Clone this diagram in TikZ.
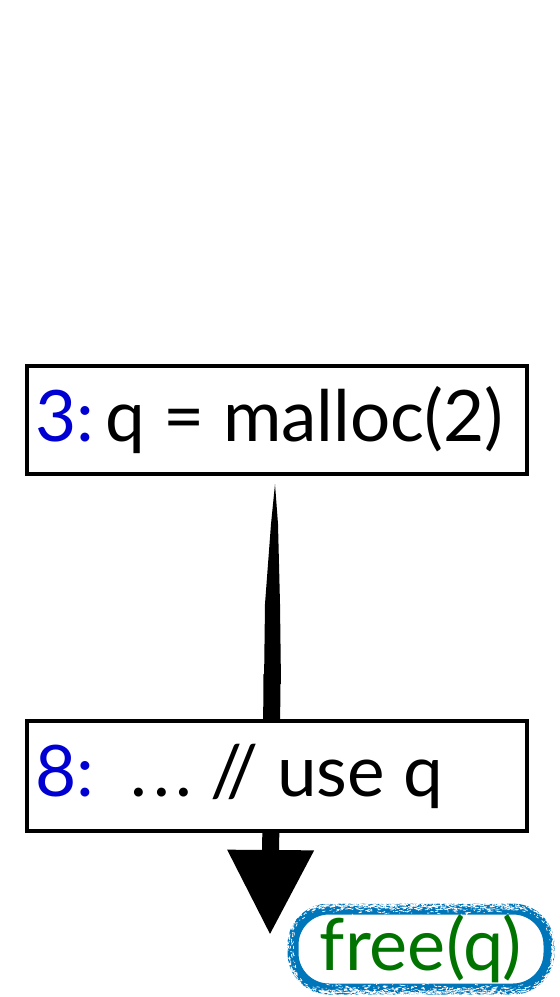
\documentclass[tikz,border=0pt]{standalone}
\usepackage{fontspec}
\setmainfont{Lato}
\usetikzlibrary{arrows.meta,decorations.pathmorphing,calc}
\definecolor{numblue}{RGB}{0,0,210}
\definecolor{freegreen}{RGB}{0,115,0}
\definecolor{ringblue}{RGB}{0,118,186}
\tikzset{
  stmtbox/.style={draw=black, line width=4pt, fill=white, minimum width=500pt,
    minimum height=108pt, inner sep=0pt, font=\fontsize{71}{76}\selectfont},
  freebox/.style={draw=ringblue, line width=11pt, rounded corners=36pt,
    minimum width=256pt, minimum height=80pt, inner sep=0pt,
    text=freegreen, font=\fontsize{72}{76}\selectfont},
  roughline/.style={draw=white, line width=0.7pt, rounded corners=36pt,
    dash pattern=on 3pt off 9pt on 1pt off 6pt,
    decorate, decoration={random steps, segment length=4pt, amplitude=0.8pt}},
  flowarrow/.style={line width=17pt, -{Triangle[length=85pt,width=82pt]}}
}
\begin{document}
\begin{tikzpicture}[x=1pt,y=-1pt]
\useasboundingbox (0,0) rectangle (560,997);
\coordinate (tip) at (270,935);
\node[freebox] (f) at (421,949) {\raisebox{-10pt}{free(q)}};
\draw[roughline] ($(f.south west)+(-3,3)$) rectangle ($(f.north east)+(3,-3)$);
\draw[roughline] ($(f.south west)+(2,-2)$) rectangle ($(f.north east)+(-2,2)$);
% connector (drawn behind the statement boxes)
\coordinate (start) at (275,484);
\fill (start) -- ($(start)+(3,40)$) -- ($(start)+(5,120)$) -- ($(start)+(6,200)$)
  -- ($(start)+(-11,200)$) -- ($(start)+(-10,120)$) -- ($(start)+(-4,40)$) -- cycle;
\draw[flowarrow] ($(start)+(-3,190)$) -- (tip);
% statement nodes
\node[stmtbox, anchor=north west] (b1) at (25,364)
  {\raisebox{-9pt}{\makebox[484pt][l]{\textcolor{numblue}{3:}\,q = malloc(2)}}};
\node[stmtbox, anchor=north west, minimum height=110pt] (b2) at (25,719)
  {\raisebox{-12pt}{\makebox[484pt][l]{\textcolor{numblue}{8:}\ \ .\kern6pt.\kern6pt.\ // use q}}};
\end{tikzpicture}
\end{document}
